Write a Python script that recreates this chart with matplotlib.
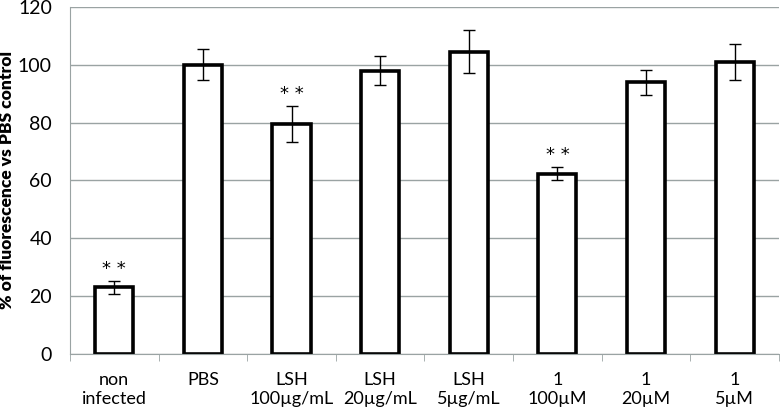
import numpy as np
import matplotlib.pyplot as plt

plt.rcParams['font.family'] = ['Lato', 'DejaVu Sans']

labels = ["non\ninfected", "PBS", "LSH\n100µg/mL", "LSH\n20µg/mL", "LSH\n5µg/mL",
          "1\n100µM", "1\n20µM", "1\n5µM"]
values = [23, 100, 79.5, 98, 104.5, 62.3, 94, 101]
errors = [2.2, 5.3, 6.2, 5.0, 7.5, 2.3, 4.3, 6.3]
starred = [True, False, True, False, False, True, False, False]

fig = plt.figure(figsize=(7.8, 4.12), dpi=100)
ax = fig.add_axes([0.0897, 0.141, 0.909, 0.842])

x = np.arange(len(values))
grid_col = "#9aa3a3"
ax.set_axisbelow(True)
ax.yaxis.grid(True, color=grid_col, linewidth=1.0)

ax.bar(x, values, width=0.43, color="white", edgecolor="black", linewidth=2.6, zorder=2)
ax.errorbar(x, values, yerr=errors, fmt="none", ecolor="black", elinewidth=1.0,
            capsize=4, capthick=1.0, zorder=3)

# significance marks above the error bars
for xi, v, e, s in zip(x, values, errors, starred):
    if s:
        ax.annotate("* *", (xi, v + e), xytext=(0, 2), textcoords="offset points",
                    ha="center", va="bottom", fontsize=13, family="DejaVu Sans")

ax.set_xlim(-0.5, len(values) - 0.5)
ax.set_ylim(0, 120)
ax.set_yticks(range(0, 121, 20))
ax.set_xticks(x)
ax.set_xticklabels(labels, fontsize=13, linespacing=1.2)
ax.set_xticks(np.arange(-0.5, len(values), 1), minor=True)
ax.tick_params(axis="x", which="major", length=0, pad=13)
ax.tick_params(axis="x", which="minor", length=5, color=grid_col, direction="out")
ax.tick_params(axis="y", length=0, labelsize=14, pad=13)

for side in ["top", "right"]:
    ax.spines[side].set_visible(False)
ax.spines["left"].set_color(grid_col)
ax.spines["bottom"].set_color(grid_col)

ax.set_ylabel("% of fluorescence vs PBS control", fontsize=12.5, fontweight="heavy")
ax.yaxis.set_label_coords(-0.078, 0.5)

fig.savefig("out.png", dpi=100)
